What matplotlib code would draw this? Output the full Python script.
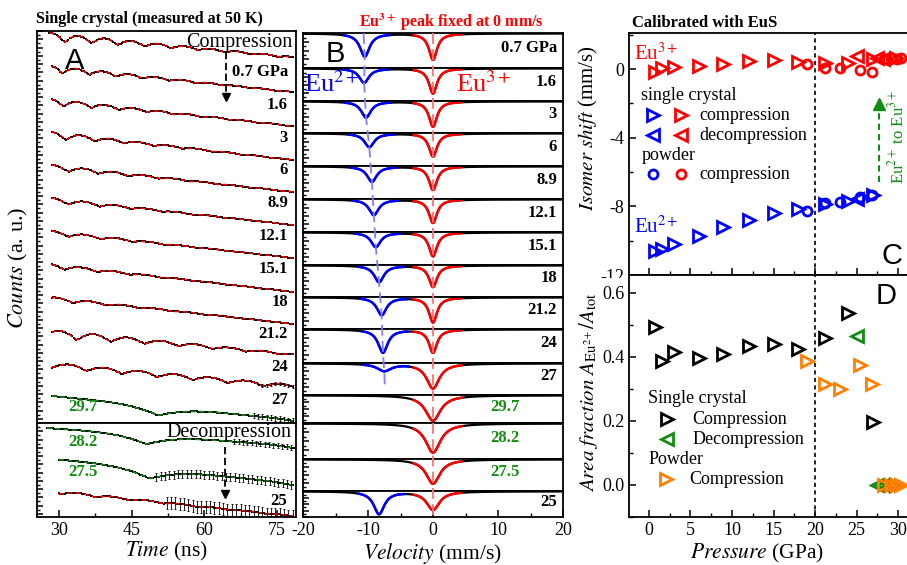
import numpy as np
import matplotlib.pyplot as plt
from matplotlib.lines import Line2D
from matplotlib.patches import Rectangle
from matplotlib.ticker import MultipleLocator, NullLocator

plt.rcParams['font.family'] = ['Liberation Serif', 'DejaVu Serif']
plt.rcParams['mathtext.fontset'] = 'stix'
plt.rcParams['axes.unicode_minus'] = False
plt.rcParams['xtick.direction'] = 'in'
plt.rcParams['ytick.direction'] = 'in'
plt.rcParams['axes.linewidth'] = 1.3
plt.rcParams['xtick.labelsize'] = 13
plt.rcParams['ytick.labelsize'] = 13

W, H = 907, 565
RED, BLUE, GREEN, ORANGE = '#ff0000', '#0000ff', '#128c12', '#ff8000'
SANS = 'Liberation Sans'

# panel A, compression: beat parameters
a_labels = ['0.7 GPa', '1.6', '3', '6', '8.9', '12.1', '15.1', '18', '21.2', '24', '27', '29.7']
a_start = [28.0, 28.5, 28.5, 28.5, 28.5, 28.5, 28.5, 28.5, 28.5, 28.5, 28.5, 28.5]
a_tmin = [31.2, 30.8, 31.0, 31.5, 32.0, 32.0, 32.0, 31.2, 33.0, 33.7, 35.7, 50.5]
a_period = [5.5, 5.5, 5.7, 6.0, 6.2, 6.4, 6.6, 6.7, 6.8, 7.0, 7.3, 36.0]
a_amp = [9, 7, 7, 7, 6, 6, 5, 5, 5, 9, 5, 9]
a_decay = [25, 20, 20, 18, 18, 16, 16, 15, 15, 30, 200, 1000]
a_drop = [24, 26, 27, 28, 27, 27, 27, 28, 27, 24, 22, 24]
a_shape = [1, 1, 1, 1, 1, 1, 1, 1, 1, 1, 1, 2]
a_noise_from = [99, 99, 99, 99, 99, 99, 99, 99, 99, 99, 72, 70]
a_err = [0, 0, 0, 0, 0, 0, 0, 0, 0, 0, 1.5, 2.5]

# panel A, decompression
d_labels = ['28.2', '27.5', '25']
d_start = [27.5, 30.0, 30.0]
d_tmin = [48.1, 48.8, 37.5]
d_period = [36.0, 36.0, 7.0]
d_amp = [9, 10, 3]
d_decay = [1000, 1000, 30]
d_drop = [18, 24, 25]
d_shape = [2, 2, 1]
d_noise_from = [66, 50, 52]
d_err = [2.5, 4.0, 6.0]

# panel B: Moessbauer spectra (velocity in mm/s, depth as fraction of box)
b_labels = a_labels + d_labels
eu2_shift = [-10.5, -10.6, -10.3, -9.8, -9.4, -9.1, -8.8, -8.3, -7.9, -7.7, -7.5,
             np.nan, np.nan, np.nan, -8.3]
eu2_depth = [0.67, 0.44, 0.51, 0.42, 0.47, 0.48, 0.45, 0.53, 0.56, 0.69, 0.23, 0, 0, 0, 0.88]
eu2_fwhm = [1.8, 1.8, 1.8, 1.8, 1.8, 1.8, 1.8, 1.8, 1.8, 1.8, 2.6, 1, 1, 1, 2.0]
eu3_depth = [0.76, 0.77, 0.80, 0.71, 0.72, 0.72, 0.73, 0.68, 0.79, 0.69, 0.79, 0.92, 0.82, 0.77, 0.72]
eu3_fwhm = [1.5, 1.5, 1.5, 1.5, 1.5, 1.5, 1.5, 1.5, 1.5, 1.5, 2.4, 2.8, 2.8, 2.6, 2.4]

# panel C: isomer shifts (mm/s)
sc_p = [0.7, 1.6, 3, 6, 8.9, 12.1, 15.1, 18, 21.2, 24, 27, 29.7]
sc_eu3 = [-0.15, 0.05, 0.12, 0.2, 0.3, 0.45, 0.5, 0.43, 0.37, 0.33, 0.6, 0.62]
sc_eu2 = [-10.6, -10.5, -10.2, -9.7, -9.2, -8.8, -8.4, -8.15, -7.85, -7.7, -7.35, np.nan]
dec_p = [28.2, 27.5, 25]
dec_eu3 = [0.6, 0.62, 0.76]
dec_eu2 = [np.nan, np.nan, -7.6]
pw_p = [19.0, 21.2, 23.0, 25.4, 26.8, 28.3, 29.1, 29.9, 30.3]
pw_eu3 = [0.29, 0.04, 0.04, -0.06, -0.16, 0.6, 0.62, 0.6, 0.62]
pw_eu2 = [-8.28, -7.82, -7.76, -7.47, -7.31, np.nan, np.nan, np.nan, np.nan]
pw_eu3_err = [0, 0, 0, 0, 0, 0.3, 0.3, 0.3, 0.3]

# panel D: Eu2+ area fraction
sc_frac = [0.494, 0.388, 0.414, 0.396, 0.409, 0.434, 0.44, 0.424, 0.46, 0.535, 0.197, 0.0]
dec_frac = [0.0, 0.0, 0.465]
pw_frac = [0.388, 0.315, 0.30, 0.375, 0.315, 0.0, 0.0, 0.0, 0.0]


def pxbox(x0, y0, x1, y1):
    return [x0 / W, 1 - y1 / H, (x1 - x0) / W, (y1 - y0) / H]


def fx(x):
    return x / W


def fy(y):
    return 1 - y / H


def nfs(t, t0, level, tmin, period, amp, decay, drop, shape):
    trend = level + drop * (t - t0) / (78.6 - t0)
    dip = (1 - np.abs(np.sin(np.pi * (t - tmin) / period))) ** shape
    return trend + amp * np.exp(-(t - t0) / decay) * dip


def lor(v, pos, fwhm):
    return 1.0 / (1.0 + (2 * (v - pos) / fwhm) ** 2)


def dense_left_ticks(ax, major, minor):
    ax.yaxis.set_major_locator(MultipleLocator(major))
    ax.yaxis.set_minor_locator(MultipleLocator(minor))
    ax.tick_params(axis='y', which='major', length=4.5, width=1.1, labelleft=False)
    ax.tick_params(axis='y', which='minor', length=2.5, width=1.0)


def draw_spectrum(ax, t, y, fitcolor, noise_from, err):
    ax.plot(t, y, 's', ms=1.6, mew=0, color='k')
    ax.plot(t, y, '--', color=fitcolor, lw=1.2, dashes=(3, 2))
    noisy = t >= noise_from
    if noisy.any():
        ax.errorbar(t[noisy][::3], y[noisy][::3], yerr=err, fmt='none',
                    ecolor='k', elinewidth=0.6, capsize=0.8, capthick=0.6)


fig = plt.figure(figsize=(W / 100, H / 100), dpi=100)

# ---------------- panel A ----------------
axA = fig.add_axes(pxbox(37, 31, 296, 423))
axA.set_xlim(25.45, 78.95)
axA.set_ylim(392, 0)
axA.xaxis.set_major_locator(NullLocator())
dense_left_ticks(axA, 8.25, 4.125)
for i, lab in enumerate(a_labels):
    t = np.arange(a_start[i], 78.6, 0.3)
    y = nfs(t, a_start[i], 2 + 33 * i, a_tmin[i], a_period[i], a_amp[i],
            a_decay[i], a_drop[i], a_shape[i])
    draw_spectrum(axA, t, y, GREEN if lab == '29.7' else RED, a_noise_from[i], a_err[i])
    if lab == '29.7':
        axA.text(31.9, 376, lab, color=GREEN, weight='bold', fontsize=12, ha='left', va='center')
    else:
        axA.text(77.3, 41 + 32.8 * i, lab, weight='bold', fontsize=12, ha='right', va='center')
axA.text(78.3, 11, 'Compression', fontsize=14.5, ha='right', va='center')
axA.plot([64.4, 64.4], [21, 64], '--', color='k', lw=1.3, dashes=(4, 2))
axA.plot(64.4, 66, marker='v', ms=6, color='k')
fig.text(fx(75), fy(61), 'A', family=SANS, fontsize=21, ha='center', va='center')

axA2 = fig.add_axes(pxbox(37, 423, 296, 517))
axA2.set_xlim(25.45, 78.95)
axA2.set_ylim(94, 0)
axA2.xaxis.set_major_locator(MultipleLocator(15))
axA2.xaxis.set_minor_locator(MultipleLocator(7.5))
axA2.tick_params(axis='x', which='major', length=5, width=1.1)
axA2.tick_params(axis='x', which='minor', length=3, width=1.0)
dense_left_ticks(axA2, 8.25, 4.125)
for i, lab in enumerate(d_labels):
    t = np.arange(d_start[i], 78.6, 0.3)
    y = nfs(t, d_start[i], 5 + 31.5 * i, d_tmin[i], d_period[i], d_amp[i],
            d_decay[i], d_drop[i], d_shape[i])
    draw_spectrum(axA2, t, y, RED if lab == '25' else GREEN, d_noise_from[i], d_err[i])
    if lab == '25':
        axA2.text(77.0, 78, lab, weight='bold', fontsize=12, ha='right', va='center')
    else:
        axA2.text(31.9, 19.5 + 29.5 * i, lab, color=GREEN, weight='bold', fontsize=12,
                  ha='left', va='center')
axA2.text(78.0, 9.5, 'Decompression', fontsize=14.5, ha='right', va='center')
axA2.plot([64.3, 64.3], [24, 69], '--', color='k', lw=1.3, dashes=(4, 2))
axA2.plot(64.3, 71, marker='v', ms=6, color='k')

fig.text(fx(36), fy(19), 'Single crystal (measured at 50 K)', weight='bold', fontsize=11.5,
         ha='left', va='center')
fig.text(fx(18), fy(268), r'$\mathit{Counts}$ (a. u.)', fontsize=16, rotation=90,
         ha='center', va='center')
fig.text(fx(166), fy(551), r'$\mathit{Time}$ (ns)', fontsize=15.5, ha='center', va='center')

# ---------------- panel B ----------------
b_edges = [33, 68, 101, 133, 166, 199, 232, 265, 297, 329, 363, 395, 423, 459, 491, 517]
v = np.linspace(-20, 20, 1601)
axes_b = []
for i, lab in enumerate(b_labels):
    ax = fig.add_axes(pxbox(303, b_edges[i], 563, b_edges[i + 1]))
    axes_b.append(ax)
    y = 1 - eu3_depth[i] * lor(v, 0.0, eu3_fwhm[i])
    has2 = not np.isnan(eu2_shift[i])
    if has2:
        y = y - eu2_depth[i] * lor(v, eu2_shift[i], eu2_fwhm[i])
    ax.plot(v, y, color='k', lw=1.6)
    if has2:
        mb = (v > eu2_shift[i] - 3.2) & (v < eu2_shift[i] + 3.8)
        ax.plot(v[mb], y[mb], color=BLUE, lw=1.8)
    mr = (v > -3.0) & (v < 4.4)
    ax.plot(v[mr], y[mr], color=RED, lw=1.8)
    ax.set_xlim(-20, 20)
    ax.set_ylim(0, 1.015)
    dense_left_ticks(ax, 0.25, 0.125)
    if lab in ('29.7', '28.2', '27.5'):
        ax.text(0.778, 0.58, lab, color=GREEN, weight='bold', fontsize=12,
                transform=ax.transAxes, ha='center', va='center')
    else:
        ax.text(0.977, 0.58, lab, weight='bold', fontsize=12,
                transform=ax.transAxes, ha='right', va='center')
    if i < len(b_labels) - 1:
        ax.xaxis.set_major_locator(NullLocator())
    else:
        ax.xaxis.set_major_locator(MultipleLocator(10))
        ax.xaxis.set_minor_locator(MultipleLocator(5))
        ax.tick_params(axis='x', which='major', length=5, width=1.1)
        ax.tick_params(axis='x', which='minor', length=3, width=1.0)

# guide lines through the Eu2+ minima and at 0 mm/s
to_fig = fig.transFigure.inverted()
guide = [axes_b[0].transData.transform((eu2_shift[0] - 0.2, 1.015))]
for i in range(11):
    guide.append(axes_b[i].transData.transform((eu2_shift[i], 1 - eu2_depth[i])))
guide.append(axes_b[10].transData.transform((eu2_shift[10] + 0.1, 0.18)))
guide = to_fig.transform(np.array(guide))
fig.add_artist(Line2D(guide[:, 0], guide[:, 1], transform=fig.transFigure,
                      color='#7f7fff', lw=1.3, ls='--', dashes=(6, 3)))
zero_top = to_fig.transform(axes_b[0].transData.transform((0, 1.015)))
zero_bot = to_fig.transform(axes_b[-1].transData.transform((0, 0)))
fig.add_artist(Line2D([zero_top[0], zero_bot[0]], [zero_top[1], zero_bot[1]],
                      transform=fig.transFigure, color='#ff7070', lw=1.3, ls='--',
                      dashes=(6, 3)))

fig.text(fx(335), fy(54), 'B', family=SANS, fontsize=21, ha='center', va='center')
fig.text(fx(304), fy(92), r'Eu$^{2+}$', color=BLUE, fontsize=19, ha='left', va='baseline')
fig.text(fx(456), fy(92), r'Eu$^{3+}$', color=RED, fontsize=19, ha='left', va='baseline')
fig.text(fx(451), fy(22), r'Eu$^{\mathbf{3+}}$ peak fixed at 0 mm/s', color=RED,
         weight='bold', fontsize=11.5, ha='center', va='center')
fig.text(fx(433), fy(553), r'$\mathit{Velocity}$ (mm/s)', fontsize=15.5, ha='center', va='center')

# ---------------- panel C ----------------
def mk(ax, x, y, marker, color, ms=8.5):
    ax.plot(x, y, ls='none', marker=marker, ms=ms, mfc='none', mec=color, mew=2.0)


axC = fig.add_axes(pxbox(629, 33, 909, 275))
axC.set_xlim(-2.4, 31.3)
axC.set_ylim(-12, 2.1)
axC.axvline(20, color='k', lw=1.2, ls=(0, (2.5, 2)))
mk(axC, sc_p, sc_eu3, '>', RED)
mk(axC, sc_p, sc_eu2, '>', BLUE)
mk(axC, pw_p, pw_eu3, 'o', RED, 6.5)
mk(axC, pw_p, pw_eu2, 'o', BLUE, 6.5)
axC.errorbar(pw_p, pw_eu3, yerr=pw_eu3_err, fmt='none', ecolor=RED, elinewidth=1.2)
mk(axC, dec_p, dec_eu3, '<', RED)
mk(axC, dec_p, dec_eu2, '<', BLUE)
axC.set_yticks([0, -4, -8, -12])
axC.yaxis.set_minor_locator(MultipleLocator(2))
axC.xaxis.set_major_locator(MultipleLocator(5))
axC.xaxis.set_minor_locator(MultipleLocator(2.5))
axC.tick_params(axis='x', labelbottom=False)
axC.tick_params(which='major', length=5, width=1.1)
axC.tick_params(which='minor', length=3, width=1.0)

axC.text(-1.82, 0.53, r'Eu$^{3+}$', color=RED, fontsize=15, ha='left', va='baseline')
axC.text(-1.82, -9.53, r'Eu$^{2+}$', color=BLUE, fontsize=15, ha='left', va='baseline')
axC.text(-0.9, -1.56, 'single crystal', fontsize=13, ha='left', va='center')
mk(axC, 0.5, -2.69, '>', BLUE)
mk(axC, 3.85, -2.69, '>', RED)
axC.text(6.1, -2.69, 'compression', fontsize=13, ha='left', va='center')
mk(axC, 0.5, -3.86, '<', BLUE)
mk(axC, 3.85, -3.86, '<', RED)
axC.text(6.1, -3.86, 'decompression', fontsize=13, ha='left', va='center')
axC.text(-0.9, -5.03, 'powder', fontsize=13, ha='left', va='center')
mk(axC, 0.5, -6.14, 'o', BLUE, 6.5)
mk(axC, 3.85, -6.14, 'o', RED, 6.5)
axC.text(6.1, -6.14, 'compression', fontsize=13, ha='left', va='center')
axC.plot([27.7, 27.7], [-6.6, -2.4], '--', color=GREEN, lw=1.5, dashes=(3, 2))
axC.plot(27.7, -2.05, marker='^', ms=8, color=GREEN)
axC.text(29.9, -3.98, r'Eu$^{2+}$ to Eu$^{3+}$', color=GREEN, fontsize=12, rotation=90,
         ha='center', va='center')
axC.text(29.2, -10.9, 'C', family=SANS, fontsize=21, ha='center', va='center')
fig.text(fx(588), fy(128), r'$\mathit{Isomer\ shift}$ (mm/s)', fontsize=15, rotation=90,
         ha='center', va='center')
fig.text(fx(632), fy(23), 'Calibrated with EuS', weight='bold', fontsize=12,
         ha='left', va='center')

# ---------------- panel D ----------------
axD = fig.add_axes(pxbox(629, 275, 909, 517))
axD.set_xlim(-2.4, 31.3)
axD.set_ylim(-0.1, 0.655)
axD.axvline(20, color='k', lw=1.2, ls=(0, (2.5, 2)))
mk(axD, sc_p, sc_frac, '>', 'k')
mk(axD, dec_p, dec_frac, '<', GREEN)
mk(axD, pw_p, pw_frac, '>', ORANGE)
axD.set_yticks([0.0, 0.2, 0.4, 0.6])
axD.yaxis.set_minor_locator(MultipleLocator(0.1))
axD.xaxis.set_major_locator(MultipleLocator(5))
axD.xaxis.set_minor_locator(MultipleLocator(2.5))
axD.tick_params(which='major', length=5, width=1.1)
axD.tick_params(which='minor', length=3, width=1.0)
axD.text(-0.1, 0.27, 'Single crystal', fontsize=13, ha='left', va='center')
mk(axD, 2.2, 0.205, '>', 'k')
axD.text(5.2, 0.205, 'Compression', fontsize=13, ha='left', va='center')
mk(axD, 2.2, 0.143, '<', GREEN)
axD.text(5.2, 0.143, 'Decompression', fontsize=13, ha='left', va='center')
axD.text(-0.1, 0.08, 'Powder', fontsize=13, ha='left', va='center')
mk(axD, 2.1, 0.018, '>', ORANGE)
axD.text(4.9, 0.018, 'Compression', fontsize=13, ha='left', va='center')
axD.text(28.6, 0.59, 'D', family=SANS, fontsize=21, ha='center', va='center')
fig.text(fx(588), fy(392), r'$\mathit{Area\ fraction}\ A_{\mathrm{Eu}^{2+}}/A_{\mathrm{tot}}$',
         fontsize=15, rotation=90, ha='center', va='center')
fig.text(fx(757), fy(553), r'$\mathit{Pressure}$ (GPa)', fontsize=15.5, ha='center', va='center')

# the lower half of the C axis "-12" label is hidden behind panel D
fig.add_artist(Rectangle((fx(585), fy(285)), 43 / W, 7 / H, transform=fig.transFigure,
                         facecolor='white', edgecolor='none', zorder=3))

fig.savefig('out.png', dpi=100)
